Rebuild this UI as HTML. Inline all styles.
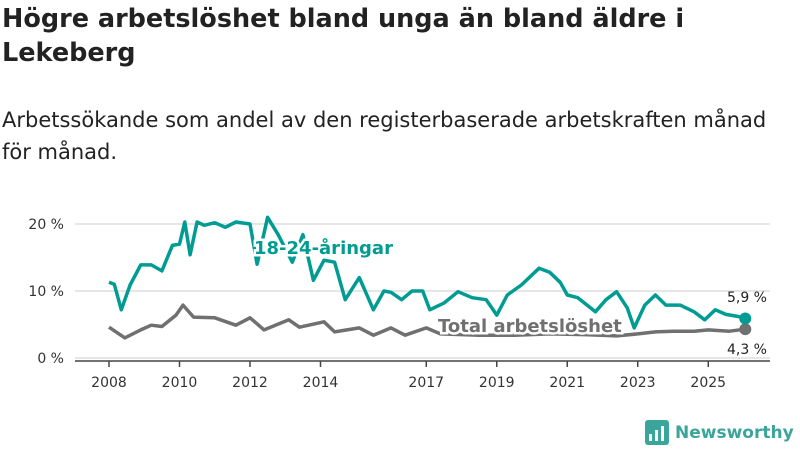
<!DOCTYPE html>
<html><head><meta charset="utf-8"><style>
body{margin:0;width:800px;height:450px;background:#fff;font-family:"DejaVu Sans","Liberation Sans",sans-serif;overflow:hidden;position:relative}
h1{position:absolute;left:2px;top:2px;margin:0;font-size:25.5px;line-height:34px;font-weight:bold;color:#222;width:720px}
p{position:absolute;left:2px;top:104px;margin:0;font-size:21px;line-height:32px;color:#222;width:785px}
svg{position:absolute;left:0;top:0}
</style></head><body>
<h1>Högre arbetslöshet bland unga än bland äldre i Lekeberg</h1>
<p>Arbetssökande som andel av den registerbaserade arbetskraften månad för månad.</p>
<svg id="c" width="800" height="450"></svg>
<script>
const youthYears=[2008,2008.15,2008.35,2008.6,2008.9,2009.2,2009.5,2009.8,2010,2010.15,2010.3,2010.5,2010.7,2011,2011.3,2011.6,2012,2012.2,2012.5,2012.8,2013.2,2013.5,2013.8,2014.1,2014.4,2014.7,2015.1,2015.5,2015.8,2016,2016.3,2016.6,2016.9,2017.1,2017.5,2017.9,2018.3,2018.7,2019,2019.3,2019.7,2020.2,2020.5,2020.8,2021,2021.3,2021.8,2022.1,2022.4,2022.7,2022.9,2023.2,2023.5,2023.8,2024.2,2024.6,2024.9,2025.2,2025.5,2025.85,2026.05];
const youthVals=[11.3,11,7.2,10.9,13.9,13.9,13,16.8,17,20.3,15.4,20.3,19.8,20.2,19.5,20.3,20,14,21,18.4,14.3,18.4,11.6,14.6,14.3,8.7,12,7.2,10,9.8,8.7,10,10,7.2,8.2,9.9,9,8.7,6.4,9.4,10.9,13.4,12.8,11.3,9.4,9,6.9,8.7,9.9,7.5,4.5,7.9,9.4,7.9,7.9,6.9,5.7,7.2,6.5,6.2,5.9];
const totYears=[2008,2008.45,2008.9,2009.2,2009.5,2009.9,2010.1,2010.4,2011,2011.6,2012,2012.4,2013.1,2013.4,2014.1,2014.4,2015.1,2015.5,2016,2016.4,2017,2017.4,2018.5,2019.5,2020.5,2021.5,2022.4,2023,2023.5,2024,2024.6,2025,2025.6,2026.05];
const totVals=[4.6,3,4.2,4.9,4.7,6.4,7.9,6.1,6,4.9,6,4.2,5.7,4.6,5.4,3.9,4.5,3.4,4.5,3.4,4.5,3.6,3.4,3.4,3.6,3.5,3.3,3.6,3.9,4,4,4.2,4,4.3];
const yTicks=[0,10,20];
const xTicks=[2008,2010,2012,2014,2017,2019,2021,2023,2025];
const X=v=>109+(v-2008)*35.25, Y=v=>358-v*6.7;
const svg=document.getElementById('c'),NS='http://www.w3.org/2000/svg';
function mk(t,a,txt){const e=document.createElementNS(NS,t);for(const k in a)e.setAttribute(k,a[k]);if(txt!=null)e.textContent=txt;svg.appendChild(e);return e;}
yTicks.forEach(v=>{const g=mk('line',{x1:75,x2:770,y1:Y(v),y2:Y(v),stroke:'#ddd','stroke-width':1.5});


const t=mk('text',{x:64,y:Y(v)+5,'text-anchor':'end','font-size':14,fill:'#333'},v+' %');

});
const ax=mk('line',{x1:75,x2:770,y1:361,y2:361,stroke:'#444','stroke-width':1.5});


xTicks.forEach(v=>{const l=mk('line',{x1:X(v),x2:X(v),y1:361,y2:367,stroke:'#444','stroke-width':1.5});


const t=mk('text',{x:X(v),y:387,'text-anchor':'middle','font-size':14,fill:'#333'},v);

});
function line(xs,vs,col,name){const d=xs.map((x,i)=>(i?'L':'M')+X(x).toFixed(1)+','+Y(vs[i]).toFixed(1)).join('');
const p=mk('path',{d:d,fill:'none',stroke:col,'stroke-width':3.5,'stroke-linejoin':'round'});


const n=xs.length-1;const c=mk('circle',{cx:X(xs[n]),cy:Y(vs[n]),r:6,fill:col});

}
line(totYears,totVals,'#707070','total-line');
line(youthYears,youthVals,'#009c93','youth-line');
function lab(x,y,txt,col,name){const t=mk('text',{x:x,y:y,'font-size':18,'font-weight':'bold',fill:col,stroke:'#fff','stroke-width':5,'paint-order':'stroke'},txt);

}
lab(254,254,'18-24-åringar','#009c93','youth-series-label');
lab(438,332,'Total arbetslöshet','#707070','total-series-label');
const e1=mk('text',{x:767,y:302,'text-anchor':'end','font-size':14,fill:'#222'},'5,9 %');


const e2=mk('text',{x:767,y:354,'text-anchor':'end','font-size':14,fill:'#222'},'4,3 %');


</script>
<div style="position:absolute;left:645px;top:420px;display:flex;align-items:center">
<svg width="24" height="25" style="position:static"><rect x="0" y="0" width="24" height="25" rx="3" fill="#3aa59a"/><rect x="4" y="14" width="3" height="7" fill="#fff"/><rect x="10" y="10" width="3" height="11" fill="#fff"/><rect x="16" y="6" width="3" height="15" fill="#fff"/></svg>
<span style="margin-left:6px;font-size:17px;font-weight:bold;color:#3aa59a">Newsworthy</span></div>
</body></html>
